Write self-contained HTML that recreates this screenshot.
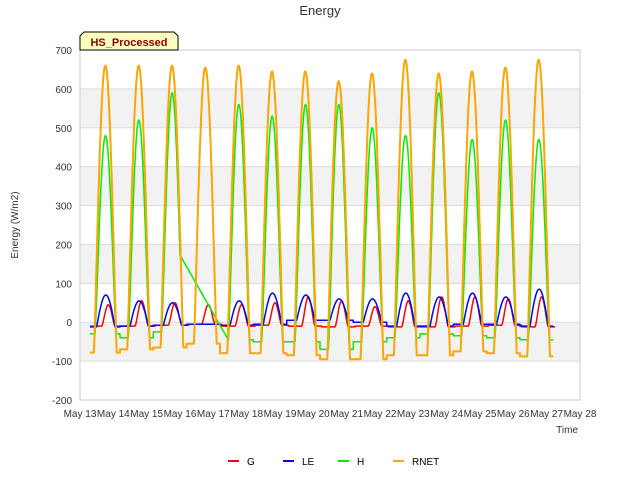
<!DOCTYPE html>
<html><head><meta charset="utf-8"><style>
body{margin:0;background:#fff;font-family:"Liberation Sans",sans-serif}
svg text{font-family:"Liberation Sans",sans-serif}
</style></head><body>
<svg id="c" width="640" height="480" xmlns="http://www.w3.org/2000/svg"></svg>
<script>
const days=[13,14,15,16,17,18,19,20,21,22,23,24,25,26];
const rnetPeak=[660,660,660,655,660,645,645,620,640,675,640,645,655,675];
const rnetNight=[-78,-70,-65,-55,-80,-80,-85,-95,-95,-85,-85,-75,-80,-88];
const hPeak=[480,520,590,null,560,530,560,560,500,480,590,470,520,470];
const hNight=[-30,-40,-25,null,-45,-50,-50,-70,-50,-40,-30,-35,-40,-45];
const hGap=[16.0,17.45];
const lePeak=[70,55,50,-5,55,75,70,60,60,75,65,75,65,85];
const leNight=[-12,-10,-8,-5,-8,-5,5,5,0,-10,-10,-5,-5,-10];
const gPeak=[45,55,50,45,45,50,65,55,40,55,65,65,60,65];
const gNight=[-10,-10,-8,-5,-10,-8,-10,-12,-10,-12,-12,-10,-8,-12];
const yTicks=[-200,-100,0,100,200,300,400,500,600,700];
const xTicks=["May 13","May 14","May 15","May 16","May 17","May 18","May 19","May 20","May 21","May 22","May 23","May 24","May 25","May 26","May 27","May 28"];
const NS="http://www.w3.org/2000/svg",svg=document.getElementById('c');
const L=80,R=580,T=50,B=400;
const X=d=>L+(d-13)*(R-L)/15, Y=v=>B-(v+200)*(B-T)/900;
function el(t,a,p){const e=document.createElementNS(NS,t);for(const k in a)e.setAttribute(k,a[k]);(p||svg).appendChild(e);return e;}
el('rect',{x:L,y:T,width:R-L,height:B-T,fill:'#fff'});
[[500,600],[300,400],[100,200],[-100,0]].forEach(b=>{const r=el('rect',{x:L,y:Y(b[1]),width:R-L,height:Y(b[0])-Y(b[1]),fill:'#f2f2f2'});});
yTicks.forEach(v=>{el('line',{x1:L,x2:R,y1:Y(v),y2:Y(v),stroke:'#dcdcdc','stroke-width':1});
const t=el('text',{x:L-8,y:Y(v)+4,'text-anchor':'end','font-size':10,fill:'#333'});t.textContent=v;
});
xTicks.forEach((s,i)=>{const t=el('text',{x:X(13+i),y:B+17,'text-anchor':'middle','font-size':10,fill:'#333'});t.textContent=s;
});
el('rect',{x:L,y:T,width:R-L,height:B-T,fill:'none',stroke:'#ccc'});
function shape(f,s,e,p){ if(f<s||f>e) return 0; return Math.pow(Math.sin(Math.PI*(f-s)/(e-s)),p);}
function series(peak,night,s,e,p,off,gap){const pts=[];off=off||0;
 for(let i=0;i<days.length;i++){ if(peak[i]===null) continue;
  for(let k=0;k<=60;k++){const f=0.2+k/60; const d=days[i]+f+off; if(d<13.3||d>27.35) continue;
   if(gap&&d>gap[0]&&d<gap[1]) continue;
   const v=night[i]+(peak[i]-night[i])*shape(f,s,e,p); pts.push([d,v]);}}
 return pts;}
function draw(pts,col,name,w){let dstr='';
 pts.forEach(p=>{dstr+=(dstr?'L':'M')+X(p[0]).toFixed(1)+','+Y(p[1]).toFixed(1);});
 const e=el('path',{d:dstr,fill:'none',stroke:col,'stroke-width':w||1.5,'stroke-linejoin':'round'});
 }
draw(series(gPeak,gNight,0.6,1.0,1.5,0.05),'#ff0000','series-g');
draw(series(lePeak,leNight,0.5,1.05,1),'#0000ff','series-le');
draw(series(hPeak,hNight,0.45,1.08,1.2,0,hGap),'#00ee00','series-h');
draw(series(rnetPeak,rnetNight,0.42,1.1,1.1),'#ffa500','series-rnet',2);
let t=el('text',{x:320,y:15,'text-anchor':'middle','font-size':13,fill:'#333'});t.textContent='Energy';
t=el('text',{x:18,y:225,'text-anchor':'middle','font-size':10,fill:'#333',transform:'rotate(-90 18 225)'});t.textContent='Energy (W/m2)';
t=el('text',{x:578,y:433,'text-anchor':'end','font-size':10,fill:'#333'});t.textContent='Time';
const bx=el('path',{d:'M80,50 L80,36 L84,32 L174,32 L178,36 L178,50 Z',fill:'#ffffc0',stroke:'#000','stroke-width':1});
t=el('text',{x:129,y:46,'text-anchor':'middle','font-size':11,'font-weight':'bold',fill:'#8b0000'});t.textContent='HS_Processed';
const leg=[['G','#ff0000',228],['LE','#0000ff',283],['H','#00ee00',338],['RNET','#ffa500',393]];
leg.forEach(l=>{const gr=el('g',{});
el('line',{x1:l[2],x2:l[2]+11,y1:461,y2:461,stroke:l[1],'stroke-width':2},gr);
const tx=el('text',{x:l[2]+19,y:465,'font-size':10,fill:'#000'},gr);tx.textContent=l[0];});
</script>
</body></html>
